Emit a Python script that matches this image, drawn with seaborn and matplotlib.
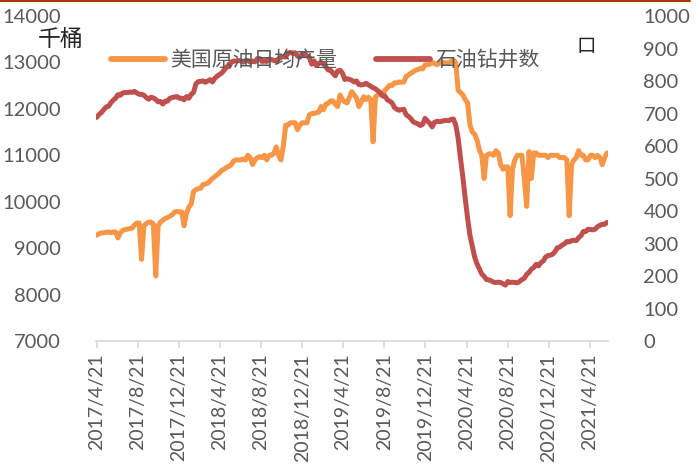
import numpy as np
import pandas as pd
import matplotlib
matplotlib.use("Agg")
import matplotlib.pyplot as plt
from matplotlib.lines import Line2D
import seaborn as sns

# weekly data, 2017/4/21 - 2021/6/11
start_date = "2017-04-21"

# US crude oil production, thousand barrels per day
prod_2017 = [9280, 9310, 9330, 9330, 9340, 9350, 9330, 9350, 9350, 9220,
             9330, 9380, 9400, 9410, 9420, 9430, 9500, 9540, 9540, 8760,
             9480, 9530, 9560, 9560, 9520, 8400, 9480, 9560, 9600, 9640,
             9660, 9690, 9720, 9780, 9790, 9780, 9780]
prod_2018 = [9480, 9750, 9880, 9950, 10220, 10260, 10280, 10290, 10370, 10380,
             10400, 10450, 10500, 10540, 10580, 10620, 10680, 10700, 10740, 10760,
             10800, 10880, 10900, 10900, 10900, 10920, 10900, 11000, 10950, 10800,
             10900, 10950, 10970, 10950, 11000, 10900, 11000, 11000, 11050, 11180,
             11000, 10900, 11200, 11650, 11650, 11700, 11700, 11700, 11550, 11650,
             11700, 11700]
prod_2019 = [11700, 11870, 11900, 11900, 11920, 11930, 12050, 11980, 12100, 12120,
             12170, 12170, 12100, 12050, 12300, 12200, 12150, 12130, 12250, 12370,
             12300, 12230, 12050, 12150, 12260, 12200, 12250, 12200, 11290, 12260,
             12300, 12330, 12300, 12400, 12450, 12510, 12500, 12560, 12560, 12580,
             12570, 12580, 12700, 12730, 12770, 12800, 12830, 12850, 12870, 12860,
             12950, 12950]
prod_2020 = [12960, 13000, 12980, 12950, 12980, 13000, 13000, 12980, 13000, 13020,
             13050, 13000, 12400, 12350, 12300, 12200, 12130, 11650, 11500, 11450,
             11330, 11110, 11000, 10500, 11000, 11030, 11030, 11000, 11100, 11050,
             10800, 10700, 10750, 10750, 9700, 10700, 10900, 11000, 11000, 11000,
             10500, 9900, 11080, 10500, 11050, 11050, 11000, 11000, 11000, 11000,
             10950, 11000]
prod_2021 = [11000, 11000, 11000, 10950, 10950, 10950, 10900, 9700, 10800, 10900,
             10950, 11100, 11000, 11000, 10900, 10900, 11000, 11000, 10950, 11000,
             10950, 10800, 10950, 11050]

# US oil rig count
rigs_2017 = [688, 697, 703, 712, 720, 722, 733, 741, 747, 758, 756, 763, 765, 764,
             766, 765, 768, 763, 759, 759, 756, 749, 744, 750, 748, 743, 736, 737,
             729, 738, 738, 747, 749, 751, 752, 747, 747]
rigs_2018 = [742, 752, 747, 759, 765, 791, 798, 799, 800, 796, 800, 804, 797, 808,
             815, 820, 825, 834, 844, 844, 859, 861, 862, 863, 862, 858, 863, 863,
             858, 861, 859, 869, 869, 860, 862, 860, 867, 866, 863, 861, 869, 873,
             875, 874, 886, 888, 885, 887, 877, 873, 883, 885]
rigs_2019 = [877, 873, 852, 862, 847, 854, 857, 853, 843, 834, 833, 824, 816, 831,
             833, 825, 805, 807, 805, 802, 797, 800, 789, 788, 789, 793, 788, 784,
             779, 776, 770, 764, 754, 754, 742, 738, 733, 719, 713, 710, 712, 713,
             696, 691, 684, 674, 671, 668, 663, 667, 685, 677]
rigs_2020 = [670, 659, 673, 676, 675, 676, 678, 679, 678, 682, 683, 664, 624, 562,
             504, 438, 378, 325, 292, 258, 237, 222, 206, 199, 189, 188, 185, 181,
             180, 181, 180, 176, 172, 183, 180, 181, 180, 179, 183, 189, 193, 205,
             211, 221, 226, 236, 231, 241, 246, 258, 263, 264]
rigs_2021 = [267, 275, 287, 289, 295, 299, 306, 305, 309, 310, 309, 318, 324, 337,
             337, 344, 343, 342, 344, 352, 356, 359, 359, 365]

tick_dates = ["2017-04-21", "2017-08-21", "2017-12-21", "2018-04-21", "2018-08-21",
              "2018-12-21", "2019-04-21", "2019-08-21", "2019-12-21", "2020-04-21",
              "2020-08-21", "2020-12-21", "2021-04-21"]

prod = prod_2017 + prod_2018 + prod_2019 + prod_2020 + prod_2021
rigs = rigs_2017 + rigs_2018 + rigs_2019 + rigs_2020 + rigs_2021
dates = pd.date_range(start_date, periods=len(prod), freq="7D")
df = pd.DataFrame({"date": dates, "prod": prod, "rigs": rigs})

sns.set_style("white")
plt.rcParams["font.family"] = ["Lato", "Noto Sans CJK SC", "DejaVu Sans"]

ORANGE = "#F79646"
RED = "#C0504D"
GREY = "#595959"

fig = plt.figure(figsize=(6.97, 4.74), dpi=100)
ax = fig.add_axes([96 / 697, 1 - 341 / 474, (608 - 96) / 697, (341 - 16) / 474])
ax2 = ax.twinx()

sns.lineplot(data=df, x="date", y="prod", ax=ax, color=ORANGE, linewidth=3.6,
             label="美国原油日均产量", legend=False)
sns.lineplot(data=df, x="date", y="rigs", ax=ax2, color=RED, linewidth=3.6,
             label="石油钻井数", legend=False)

ax.set_ylim(7000, 14000)
ax.set_yticks(np.arange(7000, 14001, 1000))
ax2.set_ylim(0, 1000)
ax2.set_yticks(np.arange(0, 1001, 100))
ax.set_xlim(dates[0] - pd.Timedelta(days=2), dates[-1] + pd.Timedelta(days=3))

ticks = pd.to_datetime(tick_dates)
ax.set_xticks(ticks)
ax.set_xticklabels([f"{d.year}/{d.month}/{d.day}" for d in ticks], rotation=90)

for a in (ax, ax2):
    for s in a.spines.values():
        s.set_visible(False)
    a.set_xlabel("")
    a.set_ylabel("")
ax.spines["bottom"].set_visible(True)
ax.spines["bottom"].set_color("#d9d9d9")
ax.spines["bottom"].set_linewidth(1.2)

ax.tick_params(axis="x", bottom=True, length=5, width=1.2, color="#d9d9d9",
               labelsize=14, labelcolor=GREY, pad=4)
ax.tick_params(axis="y", left=False, labelsize=14.5, labelcolor=GREY, pad=22)
ax2.tick_params(axis="y", right=False, labelsize=14.5, labelcolor=GREY, pad=22)

fig.text(61 / 697, 1 - 39 / 474, "千桶", ha="center", va="center",
         fontsize=16.5, color="#262626", fontweight="light")
fig.text(586 / 697, 1 - 47 / 474, "口", ha="center", va="center",
         fontsize=14, color="#262626", fontweight="light")

handles = [Line2D([], [], color=ORANGE, linewidth=4.2),
           Line2D([], [], color=RED, linewidth=4.2)]
fig.legend(handles, ["美国原油日均产量", "石油钻井数"], loc="center left",
           bbox_to_anchor=(111 / 697, 1 - 60 / 474), ncol=2, frameon=False,
           prop={"size": 15, "weight": "light"}, handlelength=2.6,
           handletextpad=0.25, columnspacing=1.85,
           labelcolor=GREY, borderaxespad=0, borderpad=0)

fig.add_artist(Line2D([0, 690 / 697], [1 - 1 / 474, 1 - 1 / 474],
                      color="#a53b00", linewidth=1.5))

fig.savefig("out.png", dpi=100)
